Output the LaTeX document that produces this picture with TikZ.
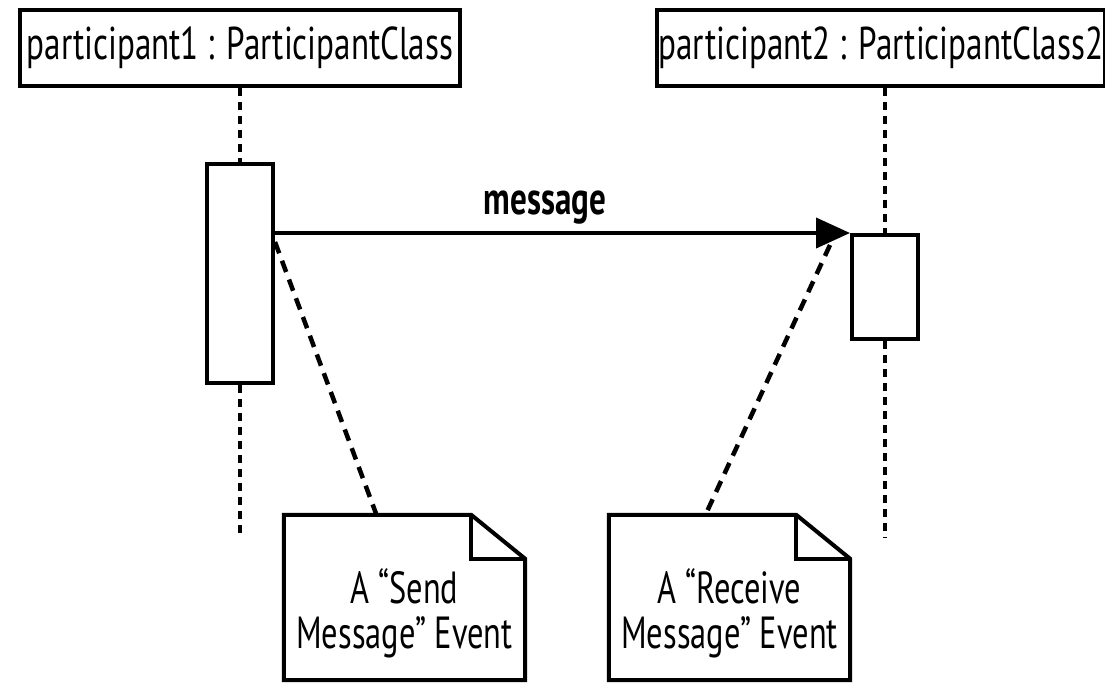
\documentclass[tikz,border=0pt]{standalone}
\usepackage{fontspec}
\setmainfont[FakeStretch=0.72]{PT Sans}
\newfontfamily\headfont[FakeStretch=0.72]{PT Sans}
\usetikzlibrary{arrows.meta}

\tikzset{
  partbox/.style={draw, line width=4pt, minimum height=76pt, inner sep=0pt, font=\headfont\fontsize{46}{50}\selectfont},
  actbox/.style={draw, fill=white, line width=4pt, minimum width=66pt, inner sep=0pt},
  lifeline/.style={line width=4pt, dash pattern=on 8pt off 6pt},
  notelink/.style={line width=4.5pt, dash pattern=on 12pt off 8pt},
  msgarrow/.style={line width=4pt, -{Triangle[length=34pt,width=30pt]}},
  notebox/.style={minimum width=241pt, minimum height=165pt, inner sep=0pt},
  notetext/.style={align=center, inner sep=0pt, font=\fontsize{45}{45}\selectfont},
  noteline/.style={line width=4pt, line join=miter}
}

\begin{document}
\begin{tikzpicture}[x=1pt,y=-1pt]
\useasboundingbox (0,0) rectangle (1105,685);
\node[partbox, minimum width=440pt] (p1) at (240,48) {participant1 : ParticipantClass};
\node[partbox, minimum width=448pt] (p2) at (881,48) {participant2 : ParticipantClass2};
\node[actbox, minimum height=219pt] (act1) at (240,273.5) {};
\node[actbox, minimum height=104pt] (act2) at (885,287) {};
\coordinate (l1end) at (240,538);
\coordinate (l2end) at (885,538);
\draw[lifeline] (act1 |- p1.south) -- (act1.north);
\draw[lifeline] (act1.south) -- (l1end);
\draw[lifeline] (act2 |- p2.south) -- (act2.north);
\draw[lifeline] (act2.south) -- (l2end);
\node[actbox, minimum height=219pt] at (act1) {};
\node[actbox, minimum height=104pt] at (act2) {};
\node[font=\fontsize{46}{46}\bfseries\selectfont] (msg) at (545,208) {message};
\draw[msgarrow] (act1.east |- act2.north) -- (act2.north west);
\node[notebox] (n1) at (404.5,597.5) {};
\node[notebox] (n2) at (729.5,597.5) {};
\foreach \n in {n1,n2} {
  \draw[noteline] (\n.north west) -- ([xshift=-54pt]\n.north east) -- ([yshift=-44pt]\n.north east) -- (\n.south east) -- (\n.south west) -- cycle;
  \draw[noteline] ([xshift=-54pt]\n.north east) |- ([yshift=-44pt]\n.north east);
}
\node[notetext] (t1) at ([yshift=-16pt]n1.center) {A “Send\\Message” Event};
\node[notetext] (t2) at ([yshift=-16pt]n2.center) {A “Receive\\Message” Event};
\draw[notelink] ([yshift=-80pt]act1.north east) -- ([xshift=-28pt]n1.north);
\draw[notelink] ([xshift=-20pt,yshift=-12pt]act2.north west) -- ([xshift=-24pt]n2.north);
\end{tikzpicture}
\end{document}
